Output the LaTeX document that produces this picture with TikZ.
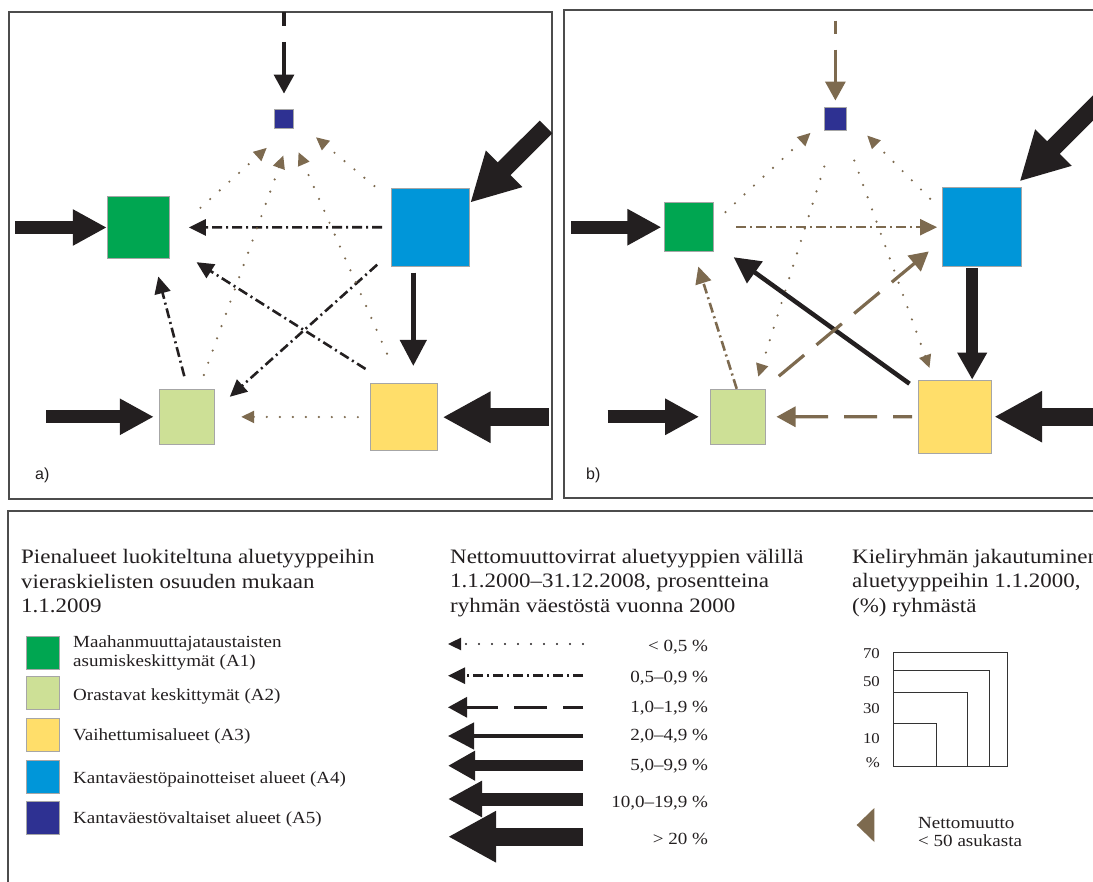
\documentclass[tikz,border=0pt]{standalone}
\usepackage{fontspec}
\setmainfont{Liberation Serif}[FakeStretch=1.12]
\newfontfamily\panelfont{Liberation Sans}
\usepackage{tikz}
\usetikzlibrary{calc,arrows.meta}

\definecolor{areaone}{HTML}{00A651}
\definecolor{areatwo}{HTML}{CDE096}
\definecolor{areathree}{HTML}{FFDE6A}
\definecolor{areafour}{HTML}{0096D9}
\definecolor{areafive}{HTML}{2E3192}
\definecolor{flowbrown}{HTML}{7D6A4F}
\definecolor{ink}{HTML}{231F20}

\begin{document}
\begin{tikzpicture}[x=1pt,y=-1pt,color=ink,
  cell/.style={draw=gray!70, line width=1pt, inner sep=0pt, minimum size=#1},
  fl0/.style={line width=2.4pt, line cap=round, dash pattern=on 0pt off 13pt, -{Triangle[width=12pt,length=13pt]}},
  fl1/.style={line width=2.6pt, dash pattern=on 10pt off 4pt on 2pt off 4pt, -{Triangle[width=16pt,length=17pt]}},
  fl2/.style={line width=3.2pt, dash pattern=on 33pt off 16pt, dash phase=13pt, -{Triangle[width=20pt,length=19pt]}},
  fl3/.style={line width=4.5pt, -{Triangle[width=26pt,length=26pt]}},
  fl4/.style={line width=11.5pt, -{Triangle[width=28pt,length=27pt]}},
  fl5/.style={line width=13pt, -{Triangle[width=34pt,length=34pt]}},
  fl6/.style={line width=18pt, -{Triangle[width=48pt,length=48pt]}},
  panel/.style={draw=black!70, line width=1.3pt},
  head/.style={font=\fontsize{20.5}{24.5}\selectfont, align=left, anchor=north west, inner sep=0pt},
  txt/.style={font=\fontsize{17}{18.4}\selectfont, inner sep=0pt},
  tag/.style={font=\panelfont\fontsize{16}{19}\selectfont, anchor=base west, inner sep=0pt}]
\useasboundingbox (0,0) rectangle (1093,882);
\fill[white] (0,0) rectangle (1093,882);
\clip (0,0) rectangle (1093,882);

\draw[panel] (9,12) rectangle (552,499);
\draw[panel] (564,10) rectangle (1110,498);
\draw[panel] (8,511) rectangle (1110,900);

\node[cell=19.5pt, fill=areafive] (a5) at (284,118.8) {};
\node[cell=62pt, fill=areaone] (a1) at (138.3,227.5) {};
\node[cell=78pt, fill=areafour] (a4) at (430.7,227.2) {};
\node[cell=55pt, fill=areatwo] (a2) at (186.8,416.8) {};
\node[cell=67.5pt, fill=areathree] (a3) at (403.8,417.2) {};
\coordinate (a5in) at (284,12);
\coordinate (a1in) at (15,227.5);
\coordinate (a2in) at (46,416.8);
\coordinate (a3in) at (549,417.2);
\coordinate (a4in) at (546,127);
\draw[fl2, dash phase=19pt] (a5in) -- ([yshift=15pt]a5.north);
\draw[fl5] (a1in) -- (a1);
\draw[fl5, shorten >=5pt] (a2in) -- (a2);
\draw[fl6, shorten >=4.5pt] (a3in) -- (a3);
\draw[fl6] (a4in) -- ([yshift=-15pt]a4.north east);
\draw[fl3, shorten <=6pt, shorten >=17pt] ([xshift=-17.4pt]a4.south) -- ([xshift=9.5pt]a3.north);
\draw[fl1, shorten <=9pt, shorten >=19pt] (a4) -- (a1);
\draw[fl1] ([xshift=-14pt,yshift=2pt]a4.south west) -- ([xshift=15pt,yshift=-8pt]a2.north east);
\draw[fl1] ([xshift=-4pt,yshift=14pt]a3.north west) -- ([xshift=26.7pt,yshift=-3.2pt]a1.south east);
\draw[fl1] ([xshift=-2.5pt,yshift=12.6pt]a2.north) -- ([xshift=20pt,yshift=-17.5pt]a1.south);
\draw[fl0, flowbrown, shorten <=11.7pt, shorten >=26.4pt] (a3) -- (a2);
\draw[fl0, flowbrown] ([xshift=30.7pt,yshift=-11.8pt]a1.north east) -- ([xshift=-7pt,yshift=-18.8pt]a5.south west);
\draw[fl0, flowbrown] ([xshift=-11pt,yshift=13.8pt]a2.north east) -- ([xshift=-0.7pt,yshift=-26.5pt]a5.south);
\draw[fl0, flowbrown] ([xshift=-16.8pt,yshift=29.3pt]a3.north) -- ([xshift=4.3pt,yshift=-23.2pt]a5.south east);
\draw[fl0, flowbrown] ([xshift=-16.8pt,yshift=1.6pt]a4.north west) -- ([xshift=21.7pt,yshift=-8.2pt]a5.south east);
\node[tag] (alab) at (35,480) {a)};

\node[cell=22.7pt, fill=areafive] (b5) at (835.4,118.7) {};
\node[cell=49.3pt, fill=areaone] (b1) at (689,227.2) {};
\node[cell=78.5pt, fill=areafour] (b4) at (981.8,227.2) {};
\node[cell=55pt, fill=areatwo] (b2) at (738.2,416.8) {};
\node[cell=73pt, fill=areathree] (b3) at (954.8,416.7) {};
\coordinate (b5in) at (835.4,20.7);
\coordinate (b1in) at (571,227.2);
\coordinate (b2in) at (607.6,416.8);
\coordinate (b3in) at (1100,416.7);
\coordinate (b4in) at (1119,82);
\draw[fl2, flowbrown, dash phase=20pt] (b5in) -- ([yshift=6.3pt]b5.north);
\draw[fl5, shorten >=2.4pt] (b1in) -- (b1);
\draw[fl5, shorten >=11pt] (b2in) -- (b2);
\draw[fl6, shorten >=2.4pt] (b3in) -- (b3);
\draw[fl6] (b4in) -- ([xshift=-2pt,yshift=6pt]b4.north east);
\draw[fl4, shorten <=1.3pt] ([xshift=-9.6pt]b4.south) -- ([xshift=17.4pt]b3.north);
\draw[fl1, flowbrown, shorten <=22pt, shorten >=5pt] (b1) -- (b4);
\draw[fl3] ([xshift=-8.3pt,yshift=-4pt]b3.north west) -- ([xshift=19.6pt,yshift=-4.9pt]b1.south east);
\draw[fl2, flowbrown, dash phase=0pt] ([xshift=12.6pt,yshift=12.6pt]b2.north east) -- ([xshift=-13.3pt,yshift=15.5pt]b4.south west);
\draw[fl1, flowbrown] ([xshift=-1.5pt]b2.north) -- ([xshift=9.3pt,yshift=-14.2pt]b1.south);
\draw[fl2, flowbrown, dash phase=14pt, shorten <=5.6pt, shorten >=10.3pt] (b3) -- (b2);
\draw[fl0, flowbrown] ([xshift=11.3pt,yshift=-10.1pt]b1.north east) -- ([xshift=-13pt,yshift=-2.3pt]b5.south west);
\draw[fl0, flowbrown] ([xshift=-11.9pt,yshift=-11.3pt]b4.north west) -- ([xshift=20pt,yshift=-5pt]b5.south east);
\draw[fl0, flowbrown] ([xshift=-11.1pt,yshift=-36pt]b5.south) -- ([xshift=20.1pt,yshift=12pt]b2.north);
\draw[fl0, flowbrown] ([xshift=18.9pt,yshift=-30pt]b5.south) -- ([xshift=11.7pt,yshift=11.7pt]b3.north west);
\node[tag] (blab) at (586,480) {b)};

\node[head] (legareas) at (21,549.5) {Pienalueet luokiteltuna aluetyyppeihin\\vieraskielisten osuuden mukaan\\1.1.2009};
\foreach \n/\c/\y in {1/areaone/652.5, 2/areatwo/693, 3/areathree/735, 4/areafour/777, 5/areafive/817.5}
  \node[cell=33pt, fill=\c] (key\n) at (42.5,\y) {};
\node[txt, align=left, anchor=north west] (keytext1) at (73,635.7) {Maahanmuuttajataustaisten\\asumiskeskittymät (A1)};
\node[txt, anchor=base west] (keytext2) at (73,700) {Orastavat keskittymät (A2)};
\node[txt, anchor=base west] (keytext3) at (73,740) {Vaihettumisalueet (A3)};
\node[txt, anchor=base west] (keytext4) at (73,783) {Kantaväestöpainotteiset alueet (A4)};
\node[txt, anchor=base west] (keytext5) at (73,823) {Kantaväestövaltaiset alueet (A5)};

\node[head] (legflows) at (450,549) {Nettomuuttovirrat aluetyyppien välillä\\1.1.2000–31.12.2008, prosentteina\\ryhmän väestöstä vuonna 2000};
\foreach \s/\y in {fl0/644, fl1/675.7, fl2/707.3, fl3/736, fl4/765.7, fl5/799, fl6/836.7}
  \draw[\s] (583,\y) -- (448,\y);
\node[txt, anchor=base east] (cls0) at (708.3,651) {< 0,5 \%};
\node[txt, anchor=base east] (cls1) at (708.3,682) {0,5–0,9 \%};
\node[txt, anchor=base east] (cls2) at (708.3,712) {1,0–1,9 \%};
\node[txt, anchor=base east] (cls3) at (708.3,740.7) {2,0–4,9 \%};
\node[txt, anchor=base east] (cls4) at (708.3,770.7) {5,0–9,9 \%};
\node[txt, anchor=base east] (cls5) at (708.3,807) {10,0–19,9 \%};
\node[txt, anchor=base east] (cls6) at (708.3,844) {> 20 \%};

\node[head] (legshare) at (852,549) {Kieliryhmän jakautuminen\\aluetyyppeihin 1.1.2000,\\(\%) ryhmästä};
\coordinate (sq0) at (893.3,766.7);
\foreach \s in {43,74,96,114}
  \draw[line width=1.2pt, draw=black!80] (sq0) rectangle ++(\s,-\s);
\node[txt, font=\fontsize{15}{18}\selectfont, anchor=base east] (sc70) at (880,658.3) {70};
\node[txt, font=\fontsize{15}{18}\selectfont, anchor=base east] (sc50) at (880,686.7) {50};
\node[txt, font=\fontsize{15}{18}\selectfont, anchor=base east] (sc30) at (880,713.3) {30};
\node[txt, font=\fontsize{15}{18}\selectfont, anchor=base east] (sc10) at (880,743.3) {10};
\node[txt, font=\fontsize{15}{18}\selectfont, anchor=base east] (scpc) at (880,767.7) {\%};
\fill[flowbrown] (856.7,825) -- (874.3,808) -- (874.3,842) -- cycle;
\node[txt, align=left, anchor=north west] (small) at (918,816.7) {Nettomuutto\\< 50 asukasta};
\end{tikzpicture}
\end{document}
